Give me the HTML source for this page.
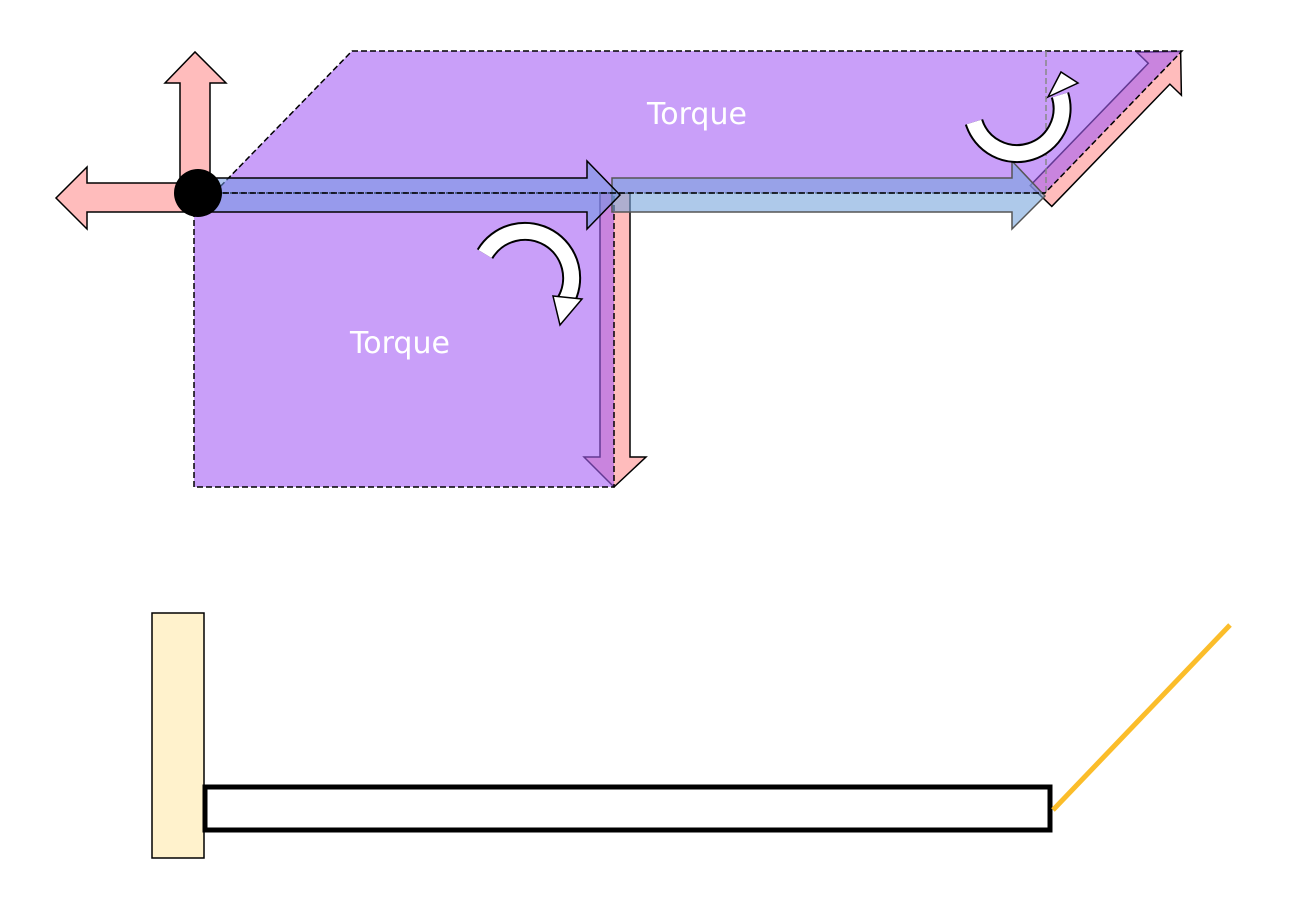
<!DOCTYPE html>
<html><head><meta charset="utf-8"><style>html,body{margin:0;padding:0;background:#fff}svg{display:block}</style></head>
<body>
<svg width="1298" height="910" viewBox="0 0 1298 910" xmlns="http://www.w3.org/2000/svg">
<!-- pink arrows -->
<polygon points="180,183 180,83 165,83 195,52 226,83 210,83 210,183" fill="#ffbcbc" stroke="#000" stroke-width="1.5"/>
<polygon points="190,183 87,183 87,167 56,198 87,229 87,212 190,212" fill="#ffbcbc" stroke="#000" stroke-width="1.5"/>
<!-- vertical pink arrow -->
<polygon points="600,193 600,457 584,457 614,487 646,457 630,457 630,193" fill="#ffbcbc" stroke="#000" stroke-width="1.5"/>
<!-- diagonal pink arrow -->
<g transform="translate(1041,196) rotate(-46)">
<polygon points="0,-15 170,-15 170,-31 201,0 170,31 170,15 0,15" fill="#ffbcbc" stroke="#000" stroke-width="1.5"/>
</g>
<!-- purple shapes -->
<polygon points="214,193 352,51 1182,51 1045,193" fill="rgba(165,95,245,0.6)" stroke="#000" stroke-width="1.5" stroke-dasharray="6,3"/>
<rect x="194" y="193" width="420" height="294" fill="rgba(165,95,245,0.6)" stroke="#000" stroke-width="1.5" stroke-dasharray="6,3"/>
<line x1="1046" y1="51" x2="1046" y2="193" stroke="#888" stroke-width="1.5" stroke-dasharray="6,3"/>
<!-- blue arrows -->
<polygon points="612,178 1012,178 1012,161 1045,196 1012,229 1012,212 612,212" fill="rgba(120,165,220,0.6)" stroke="#555" stroke-width="1.5"/>
<polygon points="205,178 587,178 587,161 620,195 587,229 587,212 205,212" fill="rgba(110,150,225,0.55)" stroke="#000" stroke-width="1.5"/>
<line x1="214" y1="193" x2="1045" y2="193" stroke="#000" stroke-width="1.5" stroke-dasharray="6,3"/>
<!-- circle -->
<ellipse cx="198" cy="193" rx="24" ry="24" fill="#000"/>
<!-- curved arrow lower -->
<path d="M485,254 A42,42 0 1 1 565,302" fill="none" stroke="#000" stroke-width="19"/>
<path d="M485,254 A42,42 0 1 1 565,302" fill="none" stroke="#fff" stroke-width="15"/>
<polygon points="553,296 582,299 560,325" fill="#fff" stroke="#000" stroke-width="1.5"/>
<!-- curved arrow upper -->
<path d="M974,122 A42,42 0 0 0 1060,95" fill="none" stroke="#000" stroke-width="19"/>
<path d="M974,122 A42,42 0 0 0 1060,95" fill="none" stroke="#fff" stroke-width="15"/>
<polygon points="1048,97 1078,83 1061,72" fill="#fff" stroke="#000" stroke-width="1.5"/>
<!-- labels -->
<text x="697" y="124" font-family="DejaVu Sans, Liberation Sans, sans-serif" font-size="30" fill="#fff" text-anchor="middle">Torque</text>
<text x="400" y="353" font-family="DejaVu Sans, Liberation Sans, sans-serif" font-size="30" fill="#fff" text-anchor="middle">Torque</text>
<!-- bottom -->
<rect x="152" y="613" width="52" height="245" fill="#fff2cc" stroke="#000" stroke-width="1.5"/>
<rect x="205" y="787" width="845" height="43" fill="#fff" stroke="#000" stroke-width="5"/>
<line x1="1053" y1="810" x2="1230" y2="625" stroke="#fbbd2a" stroke-width="5"/>
</svg>
</body></html>
